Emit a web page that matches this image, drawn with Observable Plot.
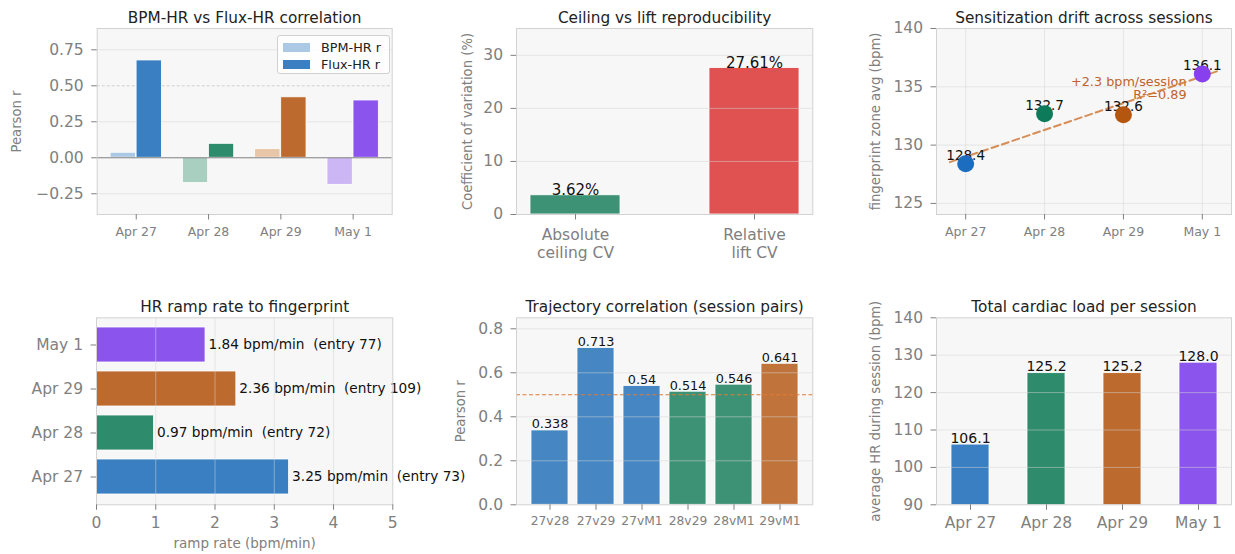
<!DOCTYPE html>
<html><head><meta charset="utf-8">
<script src="https://cdn.jsdelivr.net/npm/d3@7"></script>
<script src="https://cdn.jsdelivr.net/npm/@observablehq/plot@0.6"></script>
<style>
body{margin:0;background:#fff;font-family:"DejaVu Sans",sans-serif;}
#root{position:relative;width:1235px;height:554px;overflow:hidden;background:#fff;}
.panel{position:absolute;}
.panel svg{overflow:visible;}
.panel svg text{white-space:pre;}
.legend{position:absolute;left:277px;top:35px;width:111px;height:37px;border:1px solid #d0d0d0;border-radius:3px;background:rgba(255,255,255,0.85);font-family:"DejaVu Sans",sans-serif;font-size:12.8px;color:#222;}
.legend .row{position:absolute;left:5px;height:14px;display:flex;align-items:center;}
.legend .sw{width:27px;height:8.5px;margin-right:11px;}
</style></head><body><div id="root"></div>
<script>
// ---------- data ----------
const sessions = ["Apr 27", "Apr 28", "Apr 29", "May 1"];
const sessionColors = ["#3a7fc1", "#2e8b6b", "#bc6a2e", "#8b55ed"];
const sessionLight = ["#abc9e5", "#a9cfc1", "#e8c6a8", "#ccb7f4"];
const pointColors = ["#1c6cbf", "#0d7a5a", "#b5560f", "#8840ee"];

const bpmHr = [0.035, -0.176, 0.06, -0.188];
const fluxHr = [0.676, 0.097, 0.42, 0.398];

const cvCategories = ["Absolute\nceiling CV", "Relative\nlift CV"];
const cvValues = [3.62, 27.61];
const cvColors = ["#3d9174", "#e05252"];

const fingerprintAvg = [128.4, 132.7, 132.6, 136.1];
const fitR2 = 0.89;

const rampRates = [3.25, 0.97, 2.36, 1.84];
const rampEntries = [73, 72, 109, 77];

const pairLabels = ["27v28", "27v29", "27vM1", "28v29", "28vM1", "29vM1"];
const pairR = [0.338, 0.713, 0.54, 0.514, 0.546, 0.641];
const pairColors = ["#4586c3", "#4586c3", "#4586c3", "#3d9275", "#3d9275", "#c0743b"];
const pairThreshold = 0.5;

const avgHr = [106.1, 125.2, 125.2, 128.0];

// ---------- helpers ----------
const root = document.getElementById("root");
function place(node, left, top) {
  const d = document.createElement("div");
  d.className = "panel";
  d.style.left = left + "px";
  d.style.top = top + "px";
  d.appendChild(node);
  root.appendChild(d);
  return d;
}
const FONT = "DejaVu Sans";
const TICK = "#808080";
const GRID = {stroke: "#d6d6d6", strokeOpacity: 0.5};
const baseStyle = {fontFamily: FONT, fontSize: "15.5px", color: TICK, background: "transparent", overflow: "visible"};
const bgFrame = () => Plot.frame({fill: "#f7f7f7", stroke: null});
const edgeFrame = () => Plot.frame({stroke: "#d2d2d2"});
const title = (t, dy) => Plot.text([t], {frameAnchor: "top", dy, lineAnchor: "middle", fontSize: 15.3, fill: "#222"});
const ylab = (t, dx) => Plot.text([t], {frameAnchor: "left", dx, rotate: -90, textAnchor: "middle", lineAnchor: "middle", fontSize: 13.2, fill: TICK});
const axX = (o) => Plot.axisX({tickSize: 5.5, tickPadding: 7, label: null, ...o});
const axY = (o) => Plot.axisY({tickSize: 5.5, tickPadding: 8, label: null, fontSize: 15.5, ...o});

// ---------- panel 1: BPM-HR vs Flux-HR ----------
const p1 = sessions.flatMap((s, i) => [
  {i, side: -1, v: bpmHr[i], color: sessionLight[i]},
  {i, side: 1, v: fluxHr[i], color: sessionColors[i]}
]);
const halfGap = 0.005, barW1 = 0.35;
place(Plot.plot({
  width: 410, height: 270, marginLeft: 96.7, marginRight: 18.3, marginTop: 28, marginBottom: 56,
  style: baseStyle,
  x: {domain: [-0.54, 3.54]},
  y: {domain: [-0.394, 0.898]},
  color: {type: "identity"},
  marks: [
    bgFrame(),
    Plot.ruleY([-0.25, 0.25, 0.75], GRID),
    Plot.ruleY([0.5], {stroke: "#cfcfcf", strokeDasharray: "3,2"}),
    Plot.rectY(p1, {
      x1: d => d.side < 0 ? d.i - halfGap - barW1 : d.i + halfGap,
      x2: d => d.side < 0 ? d.i - halfGap : d.i + halfGap + barW1,
      y1: 0, y2: "v", fill: "color", stroke: "#fff", strokeWidth: 0.8
    }),
    Plot.ruleY([0], {stroke: "#808080", strokeWidth: 1}),
    edgeFrame(),
    axX({ticks: [0, 1, 2, 3], tickFormat: i => sessions[i], fontSize: 12.5}),
    axY({ticks: [-0.25, 0, 0.25, 0.5, 0.75], tickFormat: d3.format(".2f")}),
    title("BPM-HR vs Flux-HR correlation", -10.7),
    ylab("Pearson r", -80)
  ]
}), 0, 0);

const legend = document.createElement("div");
legend.className = "legend";
[["BPM-HR r", sessionLight[0], 4.5], ["Flux-HR r", sessionColors[0], 21.5]].forEach(([t, c, top]) => {
  const r = document.createElement("div");
  r.className = "row";
  r.style.top = top + "px";
  r.innerHTML = `<span class="sw" style="background:${c}"></span><span>${t}</span>`;
  legend.appendChild(r);
});
root.appendChild(legend);

// ---------- panel 2: Ceiling vs lift ----------
const p2 = cvCategories.map((c, i) => ({c, v: cvValues[i], color: cvColors[i]}));
place(Plot.plot({
  width: 420, height: 270, marginLeft: 106, marginRight: 17.7, marginTop: 28, marginBottom: 56,
  style: baseStyle,
  x: {type: "band", domain: cvCategories, paddingInner: 0.5, paddingOuter: 0.075},
  y: {domain: [0, 35.06]},
  color: {type: "identity"},
  marks: [
    bgFrame(),
    Plot.barY(p2, {x: "c", y: "v", fill: "color", stroke: "#fff", strokeWidth: 0.8}),
    Plot.ruleY([10, 20, 30], GRID),
    Plot.text(p2, {x: "c", y: "v", text: d => d.v.toFixed(2) + "%", lineAnchor: "bottom", dy: -0.5, fontSize: 15, fill: "#111"}),
    edgeFrame(),
    axX({fontSize: 15.5, tickPadding: 8, lineHeight: 1.12}),
    axY({ticks: [0, 10, 20, 30]}),
    title("Ceiling vs lift reproducibility", -10.7),
    ylab("Coefficient of variation (%)", -49)
  ]
}), 410, 0);

// ---------- panel 3: Sensitization drift ----------
const p3 = sessions.map((s, i) => ({i, v: fingerprintAvg[i], color: pointColors[i]}));
const mx = d3.mean(p3, d => d.i), my = d3.mean(p3, d => d.v);
const slope = d3.sum(p3, d => (d.i - mx) * (d.v - my)) / d3.sum(p3, d => (d.i - mx) ** 2);
const intercept = my - slope * mx;
const trendExtent = [-0.2, 3.2];
const trend = trendExtent.map(x => ({x, y: intercept + slope * x}));
const annot = [{x: 2.8, y: 134.85, text: `+${slope.toFixed(1)} bpm/session\nR²=${fitR2.toFixed(2)}`}];
place(Plot.plot({
  width: 405, height: 270, marginLeft: 106, marginRight: 4, marginTop: 28, marginBottom: 56,
  style: baseStyle,
  x: {domain: [-0.37, 3.37]},
  y: {domain: [124.05, 140]},
  color: {type: "identity"},
  marks: [
    bgFrame(),
    Plot.ruleX([0, 1, 2, 3], GRID),
    Plot.ruleY([125, 130, 135, 140], GRID),
    Plot.text(annot, {x: "x", y: "y", text: "text", textAnchor: "end", lineAnchor: "middle", lineHeight: 1.0, fontSize: 12.8, fill: "#c0622a"}),
    Plot.line(trend, {x: "x", y: "y", stroke: "#d07b3c", strokeOpacity: 0.85, strokeWidth: 2, strokeDasharray: "7,4"}),
    Plot.text(p3, {x: "i", y: "v", text: d => d.v.toFixed(1), lineAnchor: "bottom", dy: -3.5, fontSize: 13.5, fill: "#111"}),
    Plot.dot(p3, {x: "i", y: "v", r: 8.5, fill: "color"}),
    edgeFrame(),
    axX({ticks: [0, 1, 2, 3], tickFormat: i => sessions[i], fontSize: 12.5}),
    axY({ticks: [125, 130, 135, 140]}),
    title("Sensitization drift across sessions", -10.7),
    ylab("fingerprint zone avg (bpm)", -61)
  ]
}), 830, 0);

// ---------- panel 4: HR ramp rate ----------
const p4 = sessions.map((s, i) => ({s, v: rampRates[i], entry: rampEntries[i], color: sessionColors[i]}));
place(Plot.plot({
  width: 410, height: 274, marginLeft: 96, marginRight: 17.7, marginTop: 37.3, marginBottom: 49.7,
  style: baseStyle,
  x: {domain: [0, 5]},
  y: {type: "band", domain: [...sessions].reverse(), paddingInner: 0.2, paddingOuter: 0.19},
  color: {type: "identity"},
  marks: [
    bgFrame(),
    Plot.barX(p4, {y: "s", x: "v", fill: "color", stroke: "#fff", strokeWidth: 0.8}),
    Plot.ruleX([1, 2, 3, 4], GRID),
    Plot.text(p4, {y: "s", x: "v", text: d => `${d.v.toFixed(2)} bpm/min  (entry ${d.entry})`, textAnchor: "start", dx: 3, fontSize: 13.7, fill: "#111"}),
    edgeFrame(),
    axX({ticks: [0, 1, 2, 3, 4, 5], tickFormat: d3.format("d"), fontSize: 15.5, tickPadding: 7}),
    axY({fontSize: 15.5}),
    Plot.text(["ramp rate (bpm/min)"], {frameAnchor: "bottom", dy: 39, lineAnchor: "middle", fontSize: 13.5, fill: TICK}),
    title("HR ramp rate to fingerprint", -10.6)
  ]
}), 0, 280);

// ---------- panel 5: Trajectory correlation ----------
const p5 = pairLabels.map((p, i) => ({p, v: pairR[i], color: pairColors[i]}));
place(Plot.plot({
  width: 420, height: 274, marginLeft: 106, marginRight: 17.7, marginTop: 37.3, marginBottom: 49.7,
  style: baseStyle,
  x: {type: "band", domain: pairLabels, paddingInner: 0.2, paddingOuter: 0.29},
  y: {domain: [0, 0.85]},
  color: {type: "identity"},
  marks: [
    bgFrame(),
    Plot.barY(p5, {x: "p", y: "v", fill: "color", stroke: "#fff", strokeWidth: 0.8}),
    Plot.ruleY([0.2, 0.4, 0.6, 0.8], GRID),
    Plot.ruleY([pairThreshold], {stroke: "#e07b39", strokeWidth: 1.1, strokeDasharray: "4,2.5"}),
    Plot.text(p5, {x: "p", y: "v", text: d => String(d.v), lineAnchor: "bottom", dy: -2, fontSize: 12.8, fill: "#111"}),
    edgeFrame(),
    axX({fontSize: 12.3, tickPadding: 6}),
    axY({ticks: [0, 0.2, 0.4, 0.6, 0.8], tickFormat: d3.format(".1f")}),
    title("Trajectory correlation (session pairs)", -10.6),
    ylab("Pearson r", -56)
  ]
}), 410, 280);

// ---------- panel 6: Total cardiac load ----------
const p6 = sessions.map((s, i) => ({s, v: avgHr[i], color: sessionColors[i]}));
place(Plot.plot({
  width: 405, height: 274, marginLeft: 106, marginRight: 4, marginTop: 37.3, marginBottom: 49.7,
  style: baseStyle,
  x: {type: "band", domain: sessions, paddingInner: 0.5, paddingOuter: 0.175},
  y: {domain: [90, 140]},
  color: {type: "identity"},
  marks: [
    bgFrame(),
    Plot.barY(p6, {x: "s", y: "v", fill: "color", stroke: "#fff", strokeWidth: 0.8, clip: true}),
    Plot.ruleY([100, 110, 120, 130], GRID),
    Plot.text(p6, {x: "s", y: "v", text: d => d.v.toFixed(1), lineAnchor: "bottom", dy: -2, fontSize: 14, fill: "#111"}),
    edgeFrame(),
    axX({fontSize: 15.5, tickPadding: 7}),
    axY({ticks: [90, 100, 110, 120, 130, 140]}),
    title("Total cardiac load per session", -10.6),
    ylab("average HR during session (bpm)", -61)
  ]
}), 830, 280);
</script>
</body></html>
